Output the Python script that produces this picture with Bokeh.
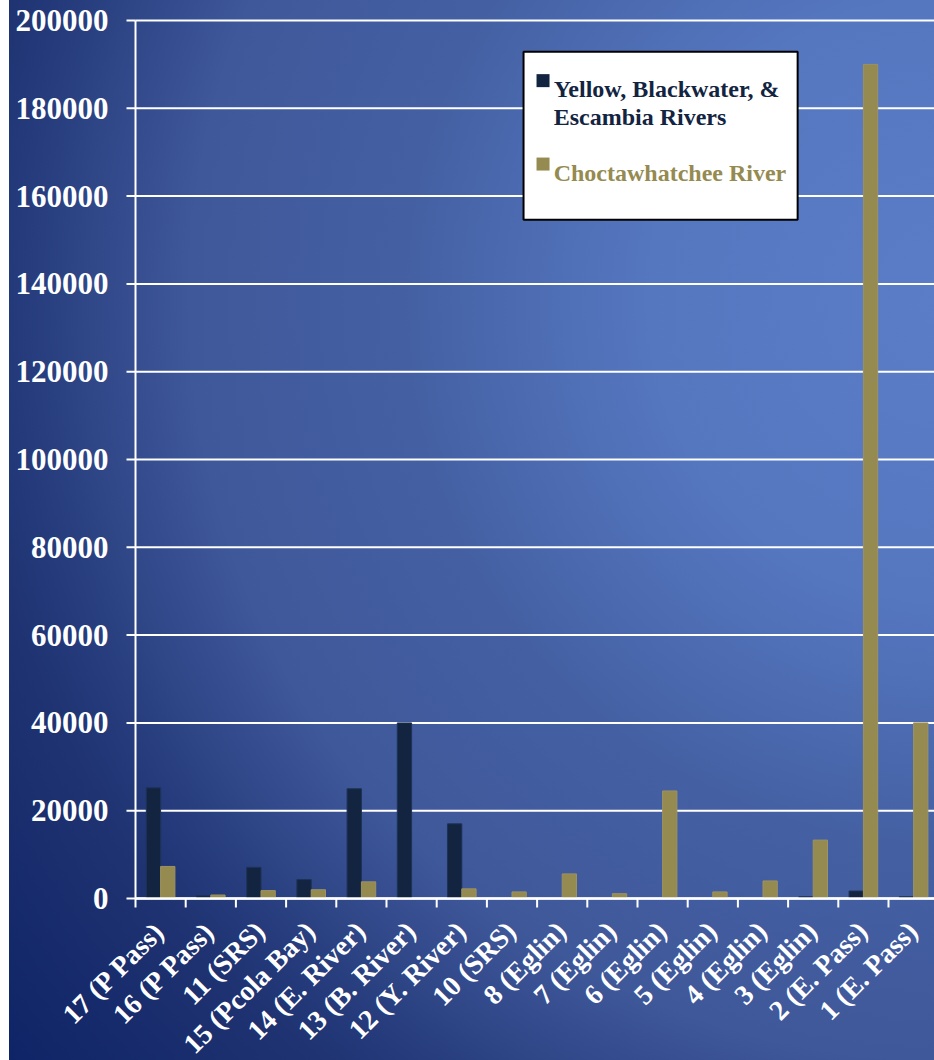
import numpy as np
from bokeh.plotting import figure
from bokeh.models import Range1d, BoxAnnotation, Label
from bokeh.embed import file_html
from bokeh.resources import INLINE

# Sampling sites (west to east) and counts for the two river systems
sites = ["17 (P Pass)", "16 (P Pass)", "11 (SRS)", "15 (Pcola Bay)", "14 (E. River)",
         "13 (B. River)", "12 (Y. River)", "10 (SRS)", "8 (Eglin)", "7 (Eglin)",
         "6 (Eglin)", "5 (Eglin)", "4 (Eglin)", "3 (Eglin)", "2 (E. Pass)", "1 (E. Pass)"]
yellow_blackwater_escambia = [25200, 600, 7100, 4300, 25000, 40000, 17000, 0,
                              0, 0, 0, 0, 0, 400, 1700, 400]
choctawhatchee = [7300, 800, 1800, 2000, 3800, 0, 2200, 1500,
                  5600, 1100, 24500, 1500, 4000, 13300, 190000, 40000]
y_ticks = [0, 20000, 40000, 60000, 80000, 100000, 120000, 140000, 160000, 180000, 200000]

series_names = ["Yellow, Blackwater, &\nEscambia Rivers", "Choctawhatchee River"]
NAVY = "#12243f"
GOLD = "#958a50"
FONT = "Liberation Serif"

n = len(sites)
centers = np.arange(n) + 0.5
bar_w = 0.285

# The frame fills the whole canvas; the value axis and the slanted site names
# are drawn inside it.  Scale: 50.2 px per site, 878 px per 200000.
W, H = 925, 1060
axis_px, zero_px, top_px = 126, 898, 20
px_per_site = 50.2
y_max = max(y_ticks)
units_per_px = y_max / (zero_px - top_px)
x_start = -axis_px / px_per_site
x_end = (W - axis_px) / px_per_site
y_end = y_max + top_px * units_per_px
y_start = -(H - zero_px) * units_per_px

p = figure(width=W, height=H, output_backend="svg", toolbar_location=None,
           x_range=Range1d(x_start, x_end), y_range=Range1d(y_start, y_end),
           x_axis_location=None, y_axis_location=None,
           min_border_left=0, min_border_right=0, min_border_top=0, min_border_bottom=0)
p.margin = (0, 0, 0, 9)
p.border_fill_alpha = 0
p.background_fill_alpha = 0
p.outline_line_color = None
p.grid.visible = False
p.styles = {
    "background": "radial-gradient(circle at 941px 300px, #5b7dc8 0px, #5577c0 300px, "
                  "#4460a3 548px, #3f589a 760px, #243a7a 936px, #1f3372 988px, #0f2466 1210px)"
}

# horizontal grid lines with their outward ticks
p.segment(x0=[0] * len(y_ticks), y0=y_ticks, x1=[x_end] * len(y_ticks), y1=y_ticks,
          line_color="white", line_width=2, level="underlay")
p.ray(x=[0] * len(y_ticks), y=y_ticks, length=9, length_units="screen", angle=np.pi,
      line_color="white", line_width=2, level="underlay")

p.vbar(x=centers - bar_w / 2, top=yellow_blackwater_escambia, width=bar_w,
       fill_color=NAVY, line_color="#1d3357", line_width=1)
p.vbar(x=centers + bar_w / 2, top=choctawhatchee, width=bar_w,
       fill_color=GOLD, line_color="#9d9260", line_width=1)

# value axis line and labels
p.segment(x0=[0], y0=[0], x1=[0], y1=[y_max], line_color="white", line_width=2)
for t in y_ticks:
    p.add_layout(Label(x=0, y=t, x_offset=-27, text=str(t), text_align="right",
                       text_baseline="middle", text_font=FONT, text_font_style="bold",
                       text_font_size="31px", text_color="white"))

# site axis along the zero line: base line, ticks between sites, slanted names
p.segment(x0=[0], y0=[0], x1=[x_end], y1=[0], line_color="white", line_width=2.5)
p.ray(x=list(range(n)), y=[0] * n, length=9, length_units="screen", angle=-np.pi / 2,
      line_color="white", line_width=2)
for cx, name in zip(centers, sites):
    p.add_layout(Label(x=cx, y=0, x_offset=-1, y_offset=-28, text=name, angle=np.pi / 4,
                       text_align="right", text_baseline="middle", text_font=FONT,
                       text_font_style="bold", text_font_size="28px", text_color="white"))

# legend box
p.add_layout(BoxAnnotation(left=7.73, right=13.19, top=192900, bottom=154600,
                           fill_color="white", fill_alpha=1, line_color="black", line_alpha=1,
                           line_width=2, level="annotation"))
p.scatter(x=[8.118, 8.118], y=[186300, 167300], marker="square", size=13,
          fill_color=[NAVY, GOLD], line_color=None, level="overlay")
legend_lines = [(series_names[0].split("\n")[0], 184460, NAVY),
                (series_names[0].split("\n")[1], 178090, NAVY),
                (series_names[1], 165330, GOLD)]
for txt, yy, col in legend_lines:
    p.add_layout(Label(x=8.33, y=yy, text=txt, text_font=FONT, text_font_style="bold",
                       text_font_size="24px", text_color=col, text_baseline="alphabetic",
                       level="overlay"))

open("out.html", "w").write(file_html(p, INLINE))
